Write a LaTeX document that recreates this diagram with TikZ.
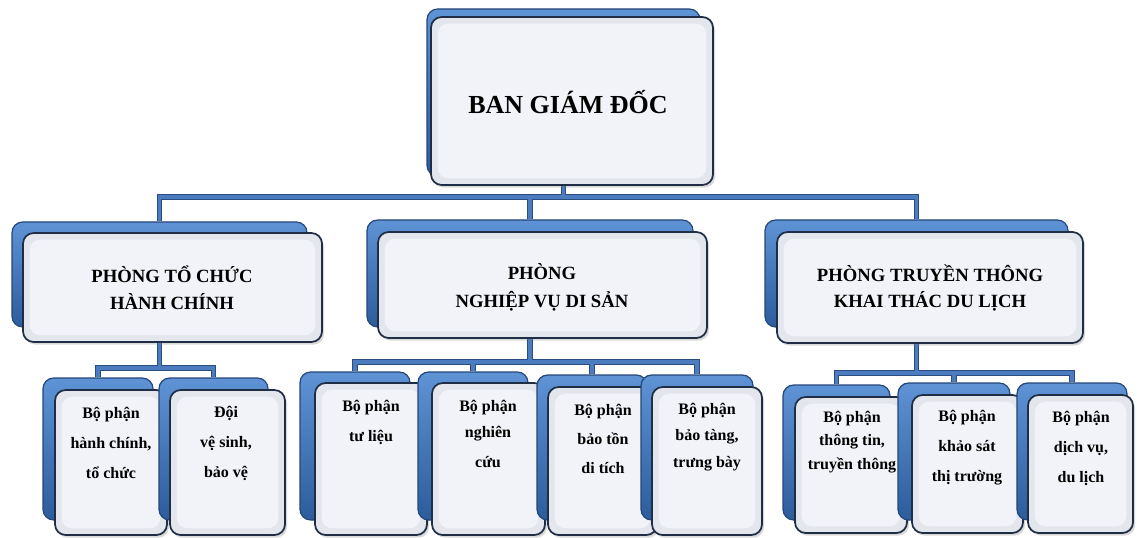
\documentclass[tikz,border=0pt]{standalone}
\usepackage{fontspec}
\setmainfont{Liberation Serif}
\usetikzlibrary{fit,backgrounds,shadows}
\definecolor{backtop}{HTML}{5E93D5}
\definecolor{backbot}{HTML}{2C5C9B}
\definecolor{backline}{HTML}{24467A}
\definecolor{frontfill}{HTML}{E3E6EC}
\definecolor{frontin}{HTML}{F1F3F8}
\definecolor{frontline}{HTML}{1F2D45}
\definecolor{wireblue}{HTML}{4A7CBF}
\definecolor{wiredark}{HTML}{2A4C7E}
\tikzset{
  backbox/.style={draw=backline, line width=0.9pt, top color=backtop, bottom color=backbot,
    rounded corners=8pt, inner sep=0pt},
  frontbox/.style={draw=frontline, line width=1.3pt, fill=frontfill, rounded corners=8pt, inner sep=0pt,
    drop shadow={opacity=0.3, shadow xshift=1.5pt, shadow yshift=-2pt},
    path picture={\fill[frontin] ([shift={(5pt,-5pt)}]path picture bounding box.north west)
      rectangle ([shift={(-5pt,5pt)}]path picture bounding box.south east);}},
  ttop/.style={font=\fontsize{19.5}{24}\selectfont\bfseries, inner sep=0pt},
  tmid/.style={font=\fontsize{14}{#1}\selectfont\bfseries, align=center, inner sep=0pt},
  tmid/.default=20,
  tlow/.style={font=\fontsize{12}{#1}\selectfont\bfseries, align=center, inner sep=0pt},
  tlow/.default=22.5,
  wireout/.style={draw=wiredark, line width=4.2pt},
  wirein/.style={draw=wireblue, line width=2.6pt},
}
\newcommand\orgwires[1]{%
  \draw[#1] (b0.south) -- (b0.south |- bar0);
  \draw[#1] (b1.north) |- (b3.north |- bar0) -- (b3.north);
  \draw[#1] (b2.north) -- (b2.north |- bar0);
  \draw[#1] (b1.south) -- (b1.south |- barA);
  \draw[#1] (b11.north) |- (b12.north |- barA) -- (b12.north);
  \draw[#1] (b2.south) -- (b2.south |- barB);
  \draw[#1] (b21.north) |- (b24.north |- barB) -- (b24.north);
  \draw[#1] (b22.north) -- (b22.north |- barB);
  \draw[#1] (b23.north) -- (b23.north |- barB);
  \draw[#1] (b3.south) -- (b3.south |- barC);
  \draw[#1] (b31.north) |- (b33.north |- barC) -- (b33.north);
  \draw[#1] (b32.north) -- (b32.north |- barC);
}
\begin{document}
\begin{tikzpicture}[x=0.75pt,y=-0.75pt]
\useasboundingbox (0,0) rectangle (1137,538);
\coordinate (bar0) at (0,197);
\coordinate (barA) at (0,368);
\coordinate (barB) at (0,362);
\coordinate (barC) at (0,373);
% top
\node[backbox, fit={(427,9)(700,176)}] (b0) {};
\node[frontbox, fit={(431,17)(713,185)}] (f0) {};
\node[ttop] (t0) at (568,102) {BAN GIÁM ĐỐC};
% level 2
\node[backbox, fit={(12,222)(307,327)}] (b1) {};
\node[frontbox, fit={(23,233)(322,342)}] (f1) {};
\node[tmid=20.3] (t1) at (172,288) {PHÒNG TỔ CHỨC\\HÀNH CHÍNH};
\node[backbox, fit={(367,220)(693,327)}] (b2) {};
\node[frontbox, fit={(378,232)(707,338)}] (f2) {};
\node[tmid=21] (t2) at (542,287) {PHÒNG\\NGHIỆP VỤ DI SẢN};
\node[backbox, fit={(765,220)(1068,327)}] (b3) {};
\node[frontbox, fit={(777,232)(1083,343)}] (f3) {};
\node[tmid=19.5] (t3) at (930,288) {PHÒNG TRUYỀN THÔNG\\KHAI THÁC DU LỊCH};
% level 3 left
\node[backbox, fit={(43,378)(153,520)}] (b11) {};
\node[frontbox, fit={(55,390)(167,535)}] (f11) {};
\node[tlow] (t11) at (111,443) {Bộ phận\\hành chính,\\tổ chức};
\node[backbox, fit={(159,378)(268,520)}] (b12) {};
\node[frontbox, fit={(170,390)(285,535)}] (f12) {};
\node[tlow] (t12) at (226,443) {Đội\\vệ sinh,\\bảo vệ};
% level 3 middle
\node[backbox, fit={(300,372)(410,520)}] (b21) {};
\node[frontbox, fit={(315,383)(427,535)}] (f21) {};
\node[tlow] (t21) at (371,422) {Bộ phận\\tư liệu};
\node[backbox, fit={(418,372)(528,520)}] (b22) {};
\node[frontbox, fit={(432,383)(545,535)}] (f22) {};
\node[tlow=20] (t22) at (488,434) {Bộ phận\\nghiên\\[2.5pt]cứu};
\node[backbox, fit={(537,375)(647,520)}] (b23) {};
\node[frontbox, fit={(548,387)(657,535)}] (f23) {};
\node[tlow=21.7] (t23) at (603,439) {Bộ phận\\bảo tồn\\di tích};
\node[backbox, fit={(641,375)(753,520)}] (b24) {};
\node[frontbox, fit={(652,387)(762,535)}] (f24) {};
\node[tlow=19.9] (t24) at (707,437) {Bộ phận\\bảo tàng,\\trưng bày};
% level 3 right
\node[backbox, fit={(783,385)(890,520)}] (b31) {};
\node[frontbox, fit={(795,397)(907,533)}] (f31) {};
\node[tlow=17.6] (t31) at (852,442) {Bộ phận\\thông tin,\\truyền thông};
\node[backbox, fit={(898,383)(1010,520)}] (b32) {};
\node[frontbox, fit={(912,395)(1023,533)}] (f32) {};
\node[tlow] (t32) at (967,448) {Bộ phận\\khảo sát\\thị trường};
\node[backbox, fit={(1017,383)(1127,520)}] (b33) {};
\node[frontbox, fit={(1028,395)(1133,533)}] (f33) {};
\node[tlow] (t33) at (1081,448) {Bộ phận\\dịch vụ,\\du lịch};
\begin{pgfonlayer}{background}
\orgwires{wireout}
\orgwires{wirein}
\end{pgfonlayer}
\end{tikzpicture}
\end{document}
